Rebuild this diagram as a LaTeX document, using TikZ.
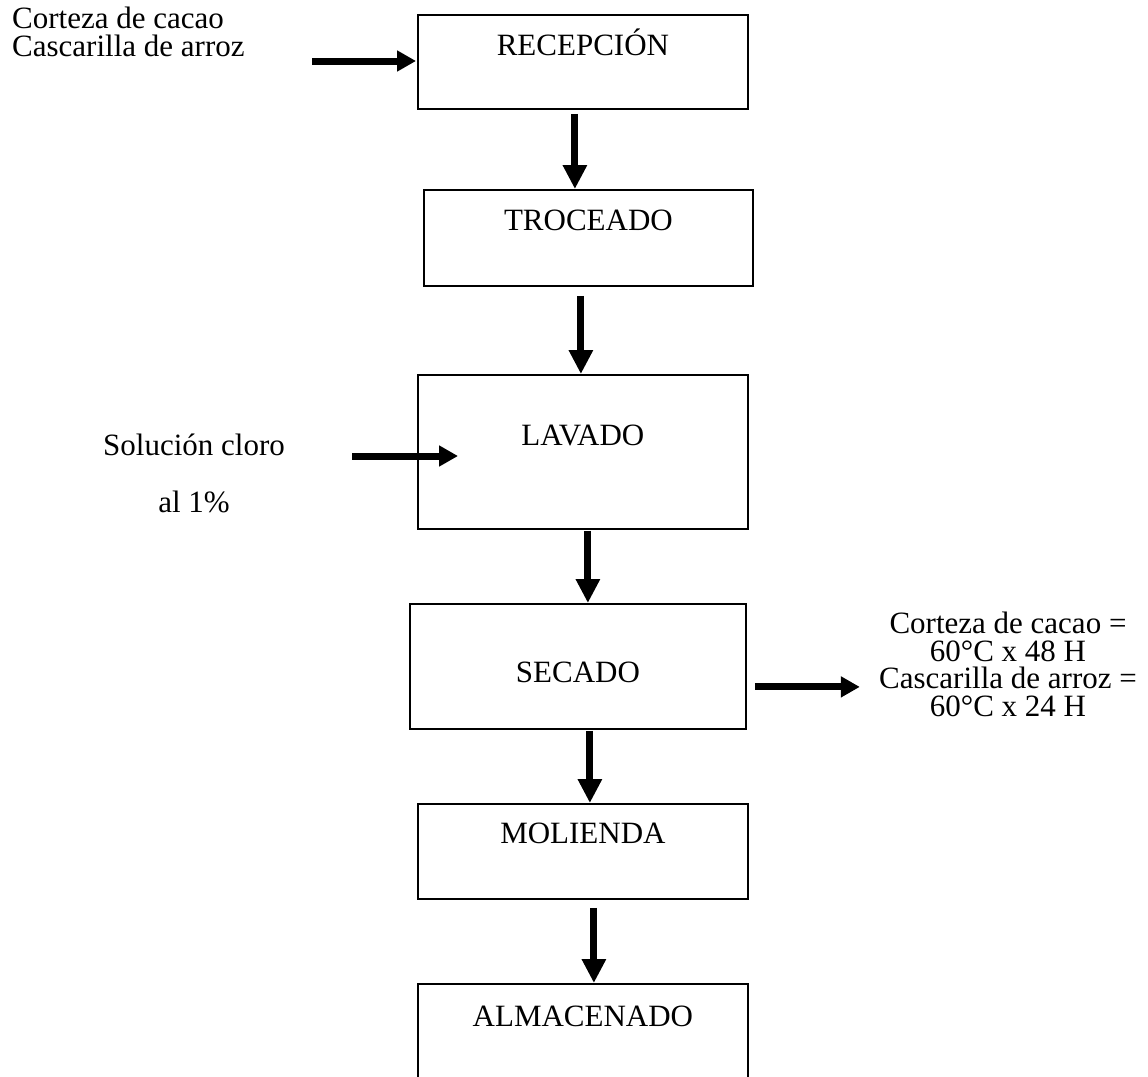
\documentclass[tikz,border=0pt]{standalone}
\usepackage{fontspec}
\setmainfont{Liberation Serif}
\usetikzlibrary{arrows.meta,calc}
\begin{document}
\begin{tikzpicture}[x=1pt,y=-1pt,
  stepbox/.style={draw, line width=1.8pt, inner sep=0pt, anchor=north west,
    minimum width=330pt, font=\fontsize{31}{36}\selectfont},
  lbl/.style={inner sep=0pt, font=\fontsize{31}{27.5}\selectfont},
  varrow/.style={line width=7pt, -{Triangle[length=24pt,width=23pt]}},
  harrow/.style={line width=7pt, -{Triangle[length=19pt,width=20pt]}},
]
\useasboundingbox (0,0) rectangle (1148,1076);
\clip (0,0) rectangle (1148,1076);
\fill[white] (0,0) rectangle (1148,1076);

% process boxes
\node[stepbox, text height=40.5pt, text depth=53.5pt] (rec) at (417,14) {RECEPCIÓN};
\node[stepbox, minimum width=329pt, text height=40.5pt, text depth=55.5pt] (tro) at (423,189) {TROCEADO};
\node[stepbox, text height=70.5pt, text depth=83.5pt] (lav) at (417,374) {LAVADO};
\node[stepbox, minimum width=336pt, text height=78.5pt, text depth=46.5pt] (sec) at (409,603) {SECADO};
\node[stepbox, text height=39.5pt, text depth=55.5pt] (mol) at (417,803) {MOLIENDA};
\node[stepbox, text height=42.5pt, text depth=140pt] (alm) at (417,983) {ALMACENADO};

% side texts
\node[lbl, anchor=north west, align=left] (inlbl) at (12,7) {Corteza de cacao\\Cascarilla de arroz};
\node[lbl, font=\fontsize{31}{57}\selectfont, anchor=north, align=center] (cllbl) at (194,434) {Solución cloro\\al 1\%};
\node[lbl, anchor=north, align=center] (outlbl) at (1008,612) {Corteza de cacao =\\60°C x 48 H\\Cascarilla de arroz =\\60°C x 24 H};

% vertical flow arrows
\coordinate (a1) at ($(rec.south)+(-8,4)$);
\coordinate (a2) at ($(tro.south)+(-7.5,9)$);
\coordinate (a3) at ($(lav.south)+(5,1)$);
\coordinate (a4) at ($(sec.south)+(12,1)$);
\coordinate (a5) at ($(mol.south)+(11,8)$);
\draw[varrow] (a1) -- (a1 |- tro.north);
\draw[varrow] (a2) -- (a2 |- lav.north);
\draw[varrow] (a3) -- (a3 |- sec.north);
\draw[varrow] (a4) -- (a4 |- mol.north);
\draw[varrow] (a5) -- (a5 |- alm.north);

% side arrows
\coordinate (i1) at (312,61);
\draw[harrow] (i1) -- ($(i1 -| rec.west)+(-1,0)$);
\coordinate (i2) at (352,456);
\coordinate (i2e) at ($(i2 -| lav.west)+(41,0)$);
\draw[harrow] (i2) -- (i2e);
\coordinate (o1) at ($(sec.east)+(8,20.5)$);
\coordinate (o1e) at ($(o1)+(105,0)$);
\draw[harrow] (o1) -- (o1e);
\end{tikzpicture}
\end{document}
